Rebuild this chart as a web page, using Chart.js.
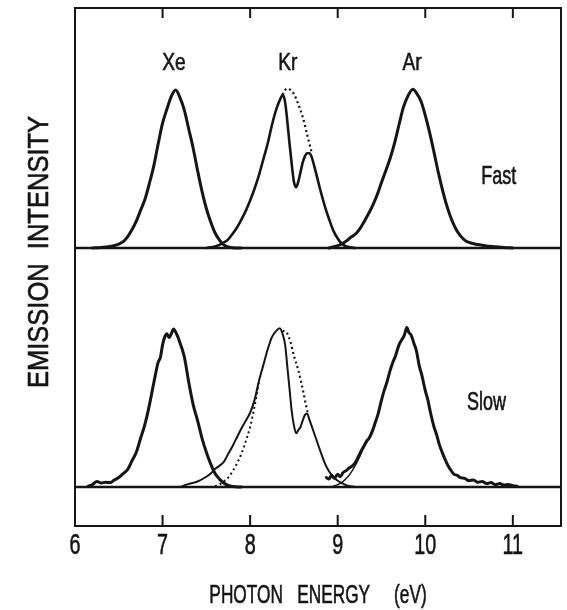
<!DOCTYPE html>
<html>
<head>
<meta charset="utf-8">
<script src="https://cdn.jsdelivr.net/npm/chart.js@4.4.1/dist/chart.umd.min.js"></script>
<style>
  html, body { margin: 0; padding: 0; background: #ffffff; }
  canvas { display: block; }
</style>
</head>
<body>
<canvas id="c" width="567" height="610"></canvas>
<script>
// ---------------- DATA ----------------
const xTicks = [6, 7, 8, 9, 10, 11];
const peakLabels = ['Xe', 'Kr', 'Ar'];
const panelLabels = ['Fast', 'Slow'];

// FAST panel
const xeFastE = [6.20, 6.30, 6.40, 6.50, 6.55, 6.60, 6.65, 6.70, 6.75, 6.80, 6.85, 6.90, 6.95, 7.00, 7.05, 7.10, 7.15, 7.20, 7.25, 7.30, 7.35, 7.40, 7.45, 7.50, 7.55, 7.60, 7.65, 7.70, 7.75, 7.80, 7.90];
const xeFastI = [0, 0.3, 1, 2.5, 4, 7, 11.5, 17, 24, 31, 41, 52, 66, 79, 88, 96, 100, 95, 87, 75, 63, 49, 36, 25, 16.5, 9.5, 5, 2, 0.7, 0.2, 0];

const krFastE = [7.50, 7.60, 7.65, 7.70, 7.75, 7.80, 7.85, 7.90, 7.95, 8.00, 8.05, 8.10, 8.15, 8.20, 8.25, 8.30, 8.35, 8.375, 8.40, 8.425, 8.45, 8.475, 8.50, 8.525, 8.55, 8.575, 8.60, 8.625, 8.65, 8.675, 8.70, 8.75, 8.80, 8.85, 8.90, 8.95, 9.00, 9.05, 9.10, 9.20];
const krFastI = [0, 1, 2, 3.5, 5.5, 9, 13, 18, 23.5, 30, 37.5, 46, 56, 66, 78, 88, 95, 97, 92, 80, 66, 53, 42, 38.5, 42, 48, 54, 58, 60, 60, 58, 48, 37, 27, 18.5, 11, 6, 2.5, 1, 0];
const krFastDotE = [8.37, 8.40, 8.43, 8.46, 8.50, 8.55, 8.60, 8.65, 8.70];
const krFastDotI = [97, 100, 101, 100, 97.5, 91, 83, 72, 61];

const arFastE = [8.90, 9.00, 9.05, 9.10, 9.15, 9.20, 9.25, 9.30, 9.35, 9.40, 9.45, 9.50, 9.55, 9.60, 9.65, 9.70, 9.75, 9.80, 9.86, 9.90, 9.95, 10.00, 10.05, 10.10, 10.15, 10.20, 10.25, 10.30, 10.35, 10.40, 10.45, 10.50, 10.60, 10.70, 10.80, 10.90, 11.00];
const arFastI = [0, 1.5, 2.7, 4.5, 6.8, 8.7, 12, 16.5, 21.5, 27, 33.5, 41.5, 49, 57, 66.5, 78, 89, 96, 100.5, 98, 93, 84, 73, 60.5, 47.5, 36, 26, 18, 12, 7.8, 5, 3.5, 2.2, 1.3, 0.8, 0.3, 0];

// SLOW panel
const xeSlowE = [6.15, 6.20, 6.25, 6.30, 6.35, 6.40, 6.45, 6.50, 6.55, 6.60, 6.65, 6.70, 6.75, 6.80, 6.85, 6.90, 6.95, 6.975, 7.00, 7.025, 7.05, 7.075, 7.10, 7.125, 7.15, 7.175, 7.20, 7.225, 7.25, 7.30, 7.35, 7.40, 7.45, 7.50, 7.55, 7.60, 7.65, 7.70, 7.75, 7.80, 7.90];
const xeSlowI = [0.5, 1.5, 3.5, 2.5, 3, 2.8, 4.5, 6, 8.5, 11, 16.5, 22, 31, 40, 52, 66, 79, 82, 90, 95, 97, 94.5, 97, 100, 98, 95, 91, 87, 82, 66, 52, 42, 31, 22, 14.5, 8.5, 5, 2.5, 1, 0.3, 0];

const krSlowE = [7.20, 7.30, 7.40, 7.50, 7.55, 7.60, 7.65, 7.70, 7.75, 7.80, 7.85, 7.90, 7.95, 8.00, 8.05, 8.10, 8.15, 8.20, 8.25, 8.30, 8.34, 8.37, 8.40, 8.425, 8.45, 8.475, 8.50, 8.525, 8.55, 8.575, 8.60, 8.625, 8.65, 8.675, 8.70, 8.75, 8.80, 8.85, 8.90, 8.95, 9.00, 9.05, 9.10, 9.20];
const krSlowI = [0, 2, 3.5, 6.5, 8.5, 11.5, 13.5, 16, 21, 26, 31.5, 37, 42, 47, 55, 67, 77, 87, 95, 99, 100.5, 97, 90, 76, 62, 48, 39, 34, 36, 38, 42, 45.5, 46.5, 43, 39, 31, 23, 15.5, 10, 6.5, 4, 2.5, 1, 0];
const krSlowDotLeftE = [7.60, 7.65, 7.70, 7.75, 7.80, 7.85, 7.90, 7.95, 8.00, 8.05, 8.10];
const krSlowDotLeftI = [0.5, 1.5, 3.5, 6, 10, 15, 21, 29, 38, 51, 66];
const krSlowDotRightE = [8.37, 8.42, 8.46, 8.50, 8.55, 8.60, 8.645, 8.66];
const krSlowDotRightI = [99, 97.5, 92, 83, 74, 62, 50, 46.5];

const arSlowE = [8.87, 8.90, 8.93, 8.96, 9.00, 9.03, 9.06, 9.10, 9.13, 9.16, 9.20, 9.23, 9.26, 9.30, 9.33, 9.36, 9.40, 9.43, 9.46, 9.50, 9.53, 9.56, 9.60, 9.63, 9.66, 9.70, 9.73, 9.76, 9.79, 9.81, 9.84, 9.87, 9.90, 9.93, 9.96, 10.00, 10.03, 10.06, 10.10, 10.13, 10.16, 10.20, 10.23, 10.26, 10.30, 10.33, 10.36, 10.40, 10.45, 10.50, 10.55, 10.60, 10.65, 10.70, 10.75, 10.80, 10.85, 10.90, 10.95, 11.00, 11.05];
const arSlowI = [6, 5, 7.5, 5.5, 8, 6.5, 9, 10.5, 12, 13, 15.5, 18.5, 22, 26, 29, 31, 36, 41, 46, 55, 61, 66, 74, 79, 83, 90, 93, 96, 101, 98, 96, 91, 86, 77, 71, 61, 55, 47, 38, 33, 27, 21, 17, 13.5, 10, 8, 7.5, 6, 5.5, 4, 4.5, 3, 3.5, 2.2, 2.8, 1.5, 2.2, 1.2, 1.6, 0.8, 0.5];
const arSlowFitE = [8.95, 9.00, 9.05, 9.10, 9.15, 9.20, 9.25, 9.30, 9.35];
const arSlowFitI = [0.5, 1.5, 3, 5.5, 9, 13.5, 19, 25, 30];

// ---------------- CHART ----------------
const INK = '#151515';
function pts(E, I) { return E.map((e, i) => ({ x: e, y: I[i] })); }
function line(E, I, axis, width, dotted) {
  return {
    data: pts(E, I), yAxisID: axis,
    borderColor: INK, borderWidth: width,
    borderDash: dotted ? [2, 3] : [],
    borderCapStyle: dotted ? 'butt' : 'round',
    borderJoinStyle: 'round',
    pointRadius: 0, fill: false,
    cubicInterpolationMode: 'monotone'
  };
}

function txt(ctx, s, x, y, size, sx, rot) {
  ctx.save();
  ctx.translate(x, y);
  if (rot) ctx.rotate(rot);
  ctx.scale(sx, 1);
  ctx.font = size + 'px "Liberation Sans", Arial, sans-serif';
  ctx.textAlign = 'center';
  ctx.textBaseline = 'middle';
  ctx.fillStyle = INK;
  ctx.strokeStyle = INK;
  ctx.lineWidth = 0.6;
  ctx.fillText(s, 0, 0);
  ctx.strokeText(s, 0, 0);
  ctx.restore();
}

const framePlugin = {
  id: 'frame',
  afterDatasetsDraw(chart) {
    const { ctx, chartArea: a, scales } = chart;
    const xs = scales.x, yf = scales.yFast, ys = scales.ySlow;
    ctx.save();
    ctx.strokeStyle = INK;
    ctx.lineCap = 'butt';
    // frame
    ctx.lineWidth = 2;
    ctx.strokeRect(a.left, a.top, a.right - a.left, a.bottom - a.top);
    // baselines (fast baseline doubles as panel divider)
    ctx.lineWidth = 2.5;
    [yf.getPixelForValue(0), ys.getPixelForValue(0)].forEach(py => {
      ctx.beginPath(); ctx.moveTo(a.left, py); ctx.lineTo(a.right, py); ctx.stroke();
    });
    // inward ticks top and bottom
    ctx.lineWidth = 2;
    xTicks.forEach(v => {
      const px = xs.getPixelForValue(v);
      if (px <= a.left + 2) return;
      ctx.beginPath(); ctx.moveTo(px, a.top); ctx.lineTo(px, a.top + 10); ctx.stroke();
      ctx.beginPath(); ctx.moveTo(px, a.bottom); ctx.lineTo(px, a.bottom - 11); ctx.stroke();
    });
    ctx.restore();

    // tick labels
    xTicks.forEach(v => txt(ctx, String(v), xs.getPixelForValue(v), a.bottom + 20, 30, 0.66));
    // axis titles
    const cx = (a.left + a.right) / 2;
    txt(ctx, 'PHOTON   ENERGY     (eV)', cx, a.bottom + 70, 25, 0.69);
    txt(ctx, 'EMISSION  INTENSITY', 40, (a.top + a.bottom) / 2 - 15, 29, 0.88, -Math.PI / 2);
    // peak labels
    const peakAt = [7.13, 8.43, 9.85];
    peakLabels.forEach((s, i) => txt(ctx, s, xs.getPixelForValue(peakAt[i]), yf.getPixelForValue(117), 24, 0.8));
    // panel labels
    txt(ctx, panelLabels[0], xs.getPixelForValue(10.84), yf.getPixelForValue(45), 25, 0.72);
    txt(ctx, panelLabels[1], xs.getPixelForValue(10.70), ys.getPixelForValue(53), 25, 0.72);
  }
};

new Chart(document.getElementById('c'), {
  type: 'line',
  data: {
    datasets: [
      line(xeFastE, xeFastI, 'yFast', 3),
      line(krFastE, krFastI, 'yFast', 2.6),
      line(krFastDotE, krFastDotI, 'yFast', 2.2, true),
      line(arFastE, arFastI, 'yFast', 3),
      line(xeSlowE, xeSlowI, 'ySlow', 3),
      line(krSlowE, krSlowI, 'ySlow', 2),
      line(krSlowDotLeftE, krSlowDotLeftI, 'ySlow', 2, true),
      line(krSlowDotRightE, krSlowDotRightI, 'ySlow', 2.2, true),
      line(arSlowE, arSlowI, 'ySlow', 3),
      line(arSlowFitE, arSlowFitI, 'ySlow', 1.4)
    ]
  },
  options: {
    responsive: false,
    animation: false,
    devicePixelRatio: 1,
    layout: { padding: { left: 75, right: 6, top: 8, bottom: 84 } },
    plugins: { legend: { display: false }, tooltip: { enabled: false } },
    scales: {
      x: { type: 'linear', min: 6, max: 11.55, display: false },
      yFast: { type: 'linear', min: -175.95, max: 151.9, display: false },
      ySlow: { type: 'linear', min: -24.68, max: 303.2, display: false }
    }
  },
  plugins: [framePlugin]
});
</script>
</body>
</html>
